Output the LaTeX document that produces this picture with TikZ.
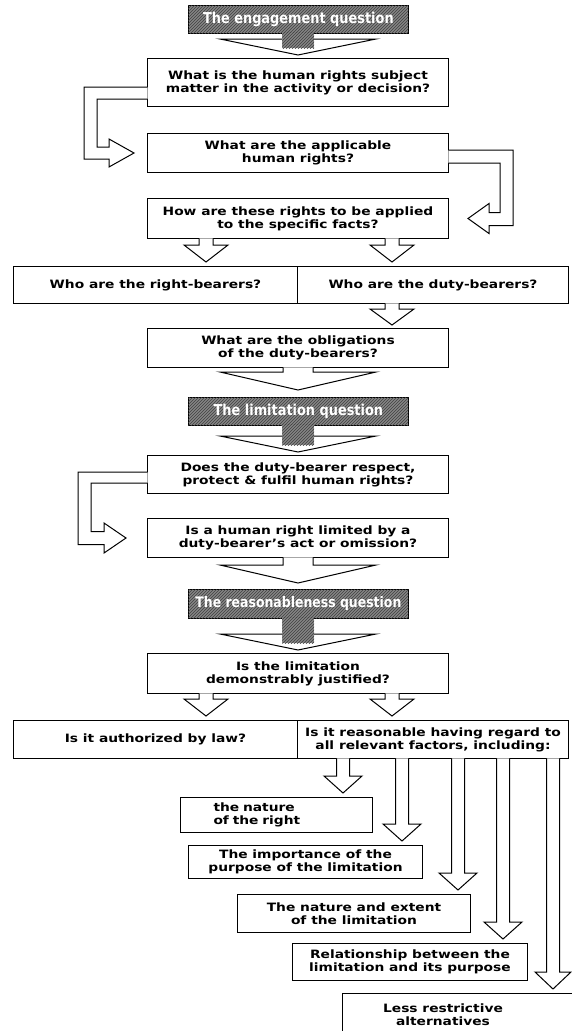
\documentclass[tikz,border=0pt]{standalone}
\usepackage{fontspec}
\setmainfont{DejaVu Sans}[FakeStretch=1.2]
\newfontfamily\hfont{DejaVu Sans}[FakeStretch=0.86]
\usetikzlibrary{calc,patterns}
\tikzset{
  qbox/.style={draw=black, line width=1pt, fill=white, inner sep=0pt, align=center,
    anchor=north west, font=\bfseries\fontsize{11.5}{13}\selectfont},
  hdr/.style={draw=black, line width=0.8pt, fill=black!48, inner sep=0pt, anchor=north west,
    postaction={pattern=north east lines, pattern color=black!75},
    text=white, font=\hfont\bfseries\fontsize{15}{17}\selectfont},
  fat/.style={draw=black, line width=1pt, fill=white, line join=miter},
  hshaft/.style={fill=black!48, postaction={pattern=north east lines, pattern color=black!75}},
}
% hollow down arrow: from, to, x, shaft half, head half, head length, gap
\newcommand\fatdown[7]{%
  \filldraw[fat] ($(#1.south -| #3,0)+(-#4,-0.6)$) -- ($(#2.north -| #3,0)+(-#4,-#7-#6)$)
    -- ($(#2.north -| #3,0)+(-#5,-#7-#6)$) -- ($(#2.north -| #3,0)+(0,-#7)$)
    -- ($(#2.north -| #3,0)+(#5,-#7-#6)$) -- ($(#2.north -| #3,0)+(#4,-#7-#6)$)
    -- ($(#1.south -| #3,0)+(#4,-0.6)$);}
% header arrow: hatched shaft with white head
\newcommand\hdrdown[2]{%
  \filldraw[fat] ($(#2.north)+(-78,-19)$) -- ($(#2.north)+(0,-3)$) -- ($(#2.north)+(78,-19)$) -- cycle;
  \fill[hshaft] ($(#1.south)+(-16,-1)$) rectangle ($(#2.north)+(16,-10)$);}
\begin{document}
\begin{tikzpicture}[x=1pt,y=-1pt]
\useasboundingbox (0,0) rectangle (572,1031);

% headers
\node[hdr, minimum width=220pt, minimum height=28pt] (h1) at (188,5) {The engagement question};
\node[hdr, minimum width=220pt, minimum height=28pt] (h2) at (188,397) {The limitation question};
\node[hdr, minimum width=220pt, minimum height=29pt, font=\hfont\bfseries\fontsize{14.5}{17}\selectfont] (h3) at (188,589) {The reasonableness question};

% question boxes
\node[qbox, minimum width=301pt, minimum height=48pt] (b1) at (147,58) {What is the human rights subject\\matter in the activity or decision?};
\node[qbox, minimum width=301pt, minimum height=39pt] (b2) at (147,133) {What are the applicable\\human rights?};
\node[qbox, minimum width=301pt, minimum height=40pt] (b3) at (147,198) {How are these rights to be applied\\to the specific facts?};
\node[qbox, minimum width=284pt, minimum height=37pt] (rb) at (13,266) {Who are the right-bearers?};
\node[qbox, minimum width=271pt, minimum height=37pt] (db) at (297,266) {Who are the duty-bearers?};
\node[qbox, minimum width=301pt, minimum height=39pt] (b5) at (147,328) {What are the obligations\\of the duty-bearers?};
\node[qbox, minimum width=301pt, minimum height=38pt] (b6) at (147,455) {Does the duty-bearer respect,\\protect \& fulfil human rights?};
\node[qbox, minimum width=301pt, minimum height=39pt] (b7) at (147,518) {Is a human right limited by a\\duty-bearer's act or omission?};
\node[qbox, minimum width=301pt, minimum height=40pt] (b8) at (147,653) {Is the limitation\\demonstrably justified?};
\node[qbox, minimum width=284pt, minimum height=38pt] (law) at (13,720) {Is it authorized by law?};
\node[qbox, minimum width=271pt, minimum height=38pt] (rea) at (297,720) {Is it reasonable having regard to\\all relevant factors, including:};
\node[qbox, minimum width=192pt, minimum height=35pt, text width=126pt, align=left] (fa) at (180,797) {the nature\\of the right};
\node[qbox, minimum width=234pt, minimum height=33pt] (fb) at (188,845) {The importance of the\\purpose of the limitation};
\node[qbox, minimum width=233pt, minimum height=38pt] (fc) at (237,894) {The nature and extent\\of the limitation};
\node[qbox, minimum width=235pt, minimum height=37pt] (fd) at (292,943) {Relationship between the\\limitation and its purpose};
\node[qbox, minimum width=250pt, minimum height=60pt] (fe) at (342,993) {};
\node[font=\bfseries\fontsize{11.5}{13}\selectfont, align=center, anchor=north] (fet) at ($(fe.north west)+(101,7)$) {Less restrictive\\alternatives};

% header arrows
\hdrdown{h1}{b1}
\hdrdown{h2}{b6}
\hdrdown{h3}{b8}

% bent connector b1 -> b2
\filldraw[fat] ($(b1.south west)+(0.6,-20)$) -- ($(b1.south west)+(-63,-20)$) -- ($(b2.west)+(-63,6)$)
  -- ($(b2.west)+(-38,6)$) -- ($(b2.west)+(-38,14)$) -- ($(b2.west)+(-13,0)$) -- ($(b2.west)+(-38,-14)$)
  -- ($(b2.west)+(-38,-6)$) -- ($(b2.west)+(-50,-6)$) -- ($(b1.south west)+(-50,-8)$) -- ($(b1.south west)+(0.6,-8)$);
% bent connector b2 -> b3
\filldraw[fat] ($(b2.north east)+(-0.6,17)$) -- ($(b2.north east)+(64,17)$) -- ($(b3.east)+(64,7)$)
  -- ($(b3.east)+(40,7)$) -- ($(b3.east)+(40,15)$) -- ($(b3.east)+(19,0)$) -- ($(b3.east)+(40,-15)$)
  -- ($(b3.east)+(40,-6)$) -- ($(b3.east)+(51,-6)$) -- ($(b2.north east)+(51,30)$) -- ($(b2.north east)+(-0.6,30)$);
% bent connector b6 -> b7
\filldraw[fat] ($(b6.north west)+(0.6,17)$) -- ($(b6.north west)+(-69,17)$) -- ($(b7.west)+(-69,6.5)$)
  -- ($(b7.west)+(-43,6.5)$) -- ($(b7.west)+(-43,15)$) -- ($(b7.west)+(-21,0)$) -- ($(b7.west)+(-43,-15)$)
  -- ($(b7.west)+(-43,-6.5)$) -- ($(b7.west)+(-56,-6.5)$) -- ($(b6.north west)+(-56,28)$) -- ($(b6.north west)+(0.6,28)$);

% small hollow arrows
\fatdown{b3}{rb}{206}{7}{22}{17}{4}
\fatdown{b3}{db}{392}{7}{22}{17}{4}
\fatdown{db}{b5}{392}{7}{22}{16}{3}
\fatdown{b5}{h2}{298}{15}{78}{18}{7}
\fatdown{b7}{h3}{298}{15}{78}{18}{6}
\fatdown{b8}{law}{206}{7}{22}{17}{4}
\fatdown{b8}{rea}{392}{7}{22}{17}{4}
\fatdown{rea}{fa}{343}{6.5}{19}{17}{4}
\fatdown{rea}{fb}{402}{6.5}{19}{17}{4}
\fatdown{rea}{fc}{458}{6.5}{19}{17}{4}
\fatdown{rea}{fd}{503}{6.5}{19}{17}{4}
\fatdown{rea}{fe}{553}{6.5}{18}{17}{4}
\end{tikzpicture}
\end{document}
